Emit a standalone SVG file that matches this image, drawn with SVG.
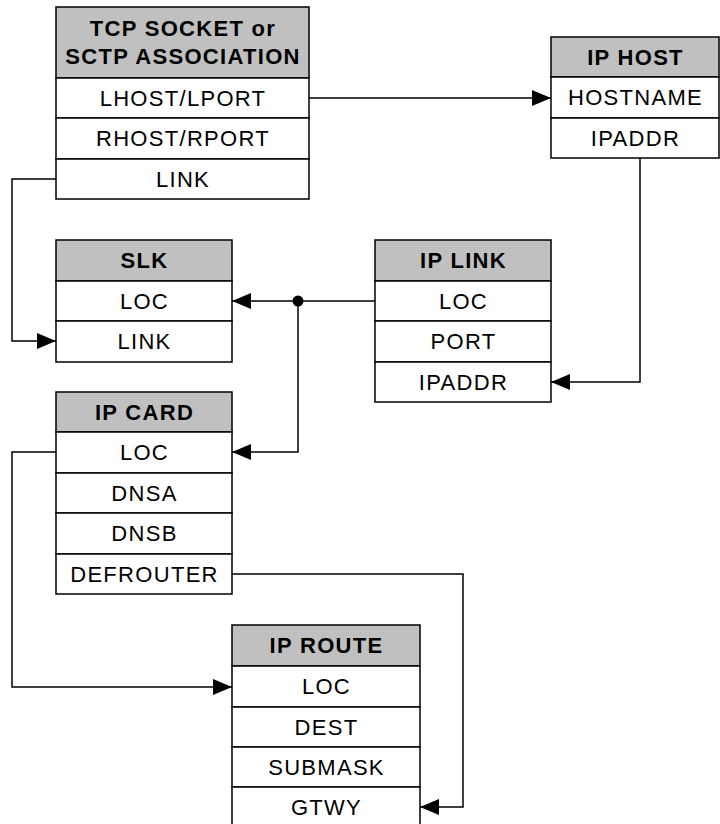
<svg xmlns="http://www.w3.org/2000/svg" width="720" height="824" viewBox="0 0 720 824">
<style>
.box{fill:#ffffff;stroke:#000;stroke-width:1.5}
.hdr{fill:#c0c0c0;stroke:#000;stroke-width:1.5}
text{font-family:"Liberation Sans",Arial,Helvetica,sans-serif;font-size:22px;letter-spacing:1.3px;text-anchor:middle;fill:#000}
.h{font-weight:bold}
.conn{stroke:#000;stroke-width:1.5;fill:none}
</style>
<defs>
<marker id="arr" markerUnits="userSpaceOnUse" markerWidth="20" markerHeight="18" refX="19" refY="8" orient="auto">
<path d="M0,0 L19,8 L0,16 z" fill="#000"/>
</marker>
</defs>
<rect width="720" height="824" fill="#ffffff"/>
<g id="connectors">
<path class="conn" d="M309,98 H551" marker-end="url(#arr)"/>
<path class="conn" d="M56,179 H12 V341 H56" marker-end="url(#arr)"/>
<path class="conn" d="M375,301 H232" marker-end="url(#arr)"/>
<path class="conn" d="M298,301 V452 H232" marker-end="url(#arr)"/>
<circle cx="298" cy="301" r="5.5" fill="#000"/>
<path class="conn" d="M640,158 V382 H551" marker-end="url(#arr)"/>
<path class="conn" d="M56,452 H12 V687 H232" marker-end="url(#arr)"/>
<path class="conn" d="M232,574 H463 V807 H420" marker-end="url(#arr)"/>
</g>
<g id="tcp-socket">
<rect class="hdr" x="56" y="7" width="253" height="71"/>
<rect class="box" x="56" y="78" width="253" height="40"/>
<rect class="box" x="56" y="118" width="253" height="41"/>
<rect class="box" x="56" y="159" width="253" height="40"/>
<text class="h" x="183" y="35.5">TCP SOCKET or</text>
<text class="h" x="183" y="64">SCTP ASSOCIATION</text>
<text x="183" y="105.5">LHOST/LPORT</text>
<text x="183" y="146">RHOST/RPORT</text>
<text x="183" y="186.5">LINK</text>
</g>
<g id="ip-host">
<rect class="hdr" x="551" y="37" width="168" height="40"/>
<rect class="box" x="551" y="77" width="168" height="41"/>
<rect class="box" x="551" y="118" width="168" height="40"/>
<text class="h" x="635.5" y="64.5">IP HOST</text>
<text x="635.5" y="105">HOSTNAME</text>
<text x="635.5" y="145.5">IPADDR</text>
</g>
<g id="slk">
<rect class="hdr" x="56" y="240" width="176" height="41"/>
<rect class="box" x="56" y="281" width="176" height="40"/>
<rect class="box" x="56" y="321" width="176" height="41"/>
<text class="h" x="144.5" y="268">SLK</text>
<text x="144.5" y="308.5">LOC</text>
<text x="144.5" y="349">LINK</text>
</g>
<g id="ip-link">
<rect class="hdr" x="375" y="240" width="176" height="41"/>
<rect class="box" x="375" y="281" width="176" height="40"/>
<rect class="box" x="375" y="321" width="176" height="41"/>
<rect class="box" x="375" y="362" width="176" height="40"/>
<text class="h" x="463.5" y="268">IP LINK</text>
<text x="463.5" y="308.5">LOC</text>
<text x="463.5" y="349">PORT</text>
<text x="463.5" y="389.5">IPADDR</text>
</g>
<g id="ip-card">
<rect class="hdr" x="56" y="392" width="176" height="40"/>
<rect class="box" x="56" y="432" width="176" height="41"/>
<rect class="box" x="56" y="473" width="176" height="40"/>
<rect class="box" x="56" y="513" width="176" height="41"/>
<rect class="box" x="56" y="554" width="176" height="40"/>
<text class="h" x="144.5" y="419.5">IP CARD</text>
<text x="144.5" y="460">LOC</text>
<text x="144.5" y="500.5">DNSA</text>
<text x="144.5" y="541">DNSB</text>
<text x="144.5" y="581.5">DEFROUTER</text>
</g>
<g id="ip-route">
<rect class="hdr" x="232" y="625" width="188" height="41"/>
<rect class="box" x="232" y="666" width="188" height="41"/>
<rect class="box" x="232" y="707" width="188" height="40"/>
<rect class="box" x="232" y="747" width="188" height="40"/>
<rect class="box" x="232" y="787" width="188" height="40"/>
<text class="h" x="326.5" y="653">IP ROUTE</text>
<text x="326.5" y="694">LOC</text>
<text x="326.5" y="734.5">DEST</text>
<text x="326.5" y="774.5">SUBMASK</text>
<text x="326.5" y="814.5">GTWY</text>
</g>
</svg>
